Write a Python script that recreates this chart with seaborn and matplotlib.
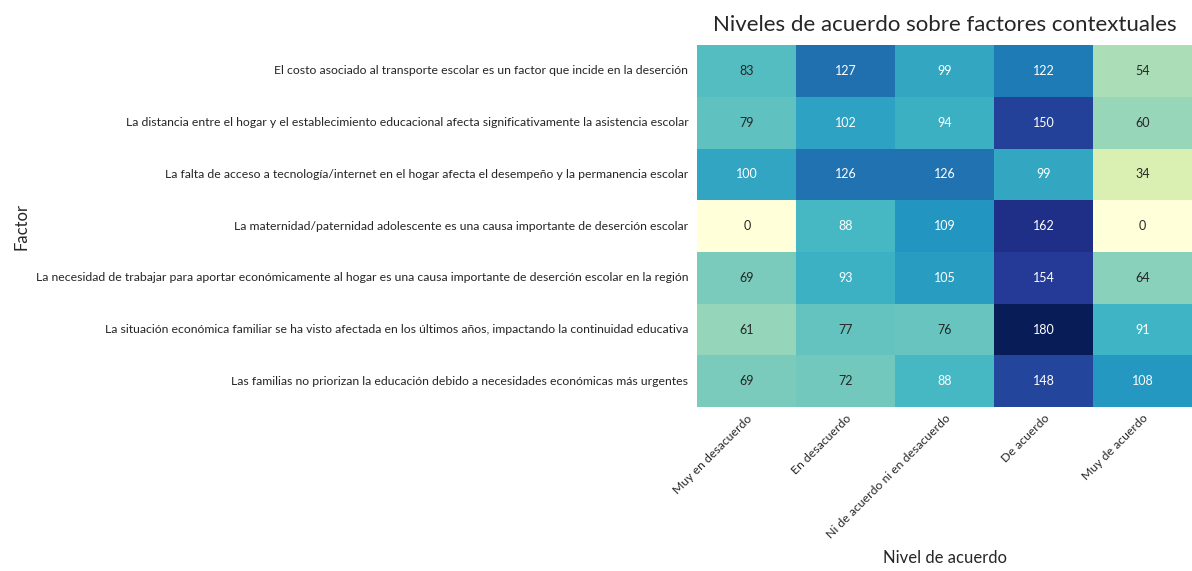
import matplotlib
matplotlib.use("Agg")
import matplotlib.pyplot as plt
import seaborn as sns
import pandas as pd
import numpy as np

factors = [
    "El costo asociado al transporte escolar es un factor que incide en la deserción",
    "La distancia entre el hogar y el establecimiento educacional afecta significativamente la asistencia escolar",
    "La falta de acceso a tecnología/internet en el hogar afecta el desempeño y la permanencia escolar",
    "La maternidad/paternidad adolescente es una causa importante de deserción escolar",
    "La necesidad de trabajar para aportar económicamente al hogar es una causa importante de deserción escolar en la región",
    "La situación económica familiar se ha visto afectada en los últimos años, impactando la continuidad educativa",
    "Las familias no priorizan la educación debido a necesidades económicas más urgentes",
]
levels = ["Muy en desacuerdo", "En desacuerdo", "Ni de acuerdo ni en desacuerdo", "De acuerdo", "Muy de acuerdo"]

muy_desacuerdo = [83, 79, 100, 0, 69, 61, 69]
desacuerdo = [127, 102, 126, 88, 93, 77, 72]
neutral = [99, 94, 126, 109, 105, 76, 88]
de_acuerdo = [122, 150, 99, 162, 154, 180, 148]
muy_acuerdo = [54, 60, 34, 0, 64, 91, 108]

df = pd.DataFrame(
    {levels[0]: muy_desacuerdo, levels[1]: desacuerdo, levels[2]: neutral,
     levels[3]: de_acuerdo, levels[4]: muy_acuerdo},
    index=factors,
)

sns.set_theme(style="white")
plt.rcParams['font.family'] = ['Lato', 'DejaVu Sans']

fig = plt.figure(figsize=(11.92, 5.71), dpi=100)
ax = fig.add_axes([0.585, 0.287, 0.415, 0.634])
sns.heatmap(df, ax=ax, cmap="YlGnBu", annot=True, fmt="d", cbar=False,
            annot_kws={"fontsize": 9})
ax.set_title("Niveles de acuerdo sobre factores contextuales", fontsize=16, pad=10)
ax.set_xlabel("Nivel de acuerdo", fontsize=12)
ax.set_ylabel("Factor", fontsize=12)
ax.yaxis.set_label_coords(-1.35, 0.5)
ax.xaxis.set_label_coords(0.5, -0.395)
ax.tick_params(axis='both', length=0, labelsize=8.8)
ax.tick_params(axis='y', pad=6.5)
ax.tick_params(axis='x', pad=4)
plt.setp(ax.get_xticklabels(), rotation=45, ha='right', rotation_mode='anchor')
plt.setp(ax.get_yticklabels(), rotation=0)
fig.savefig("out.png", dpi=100)
